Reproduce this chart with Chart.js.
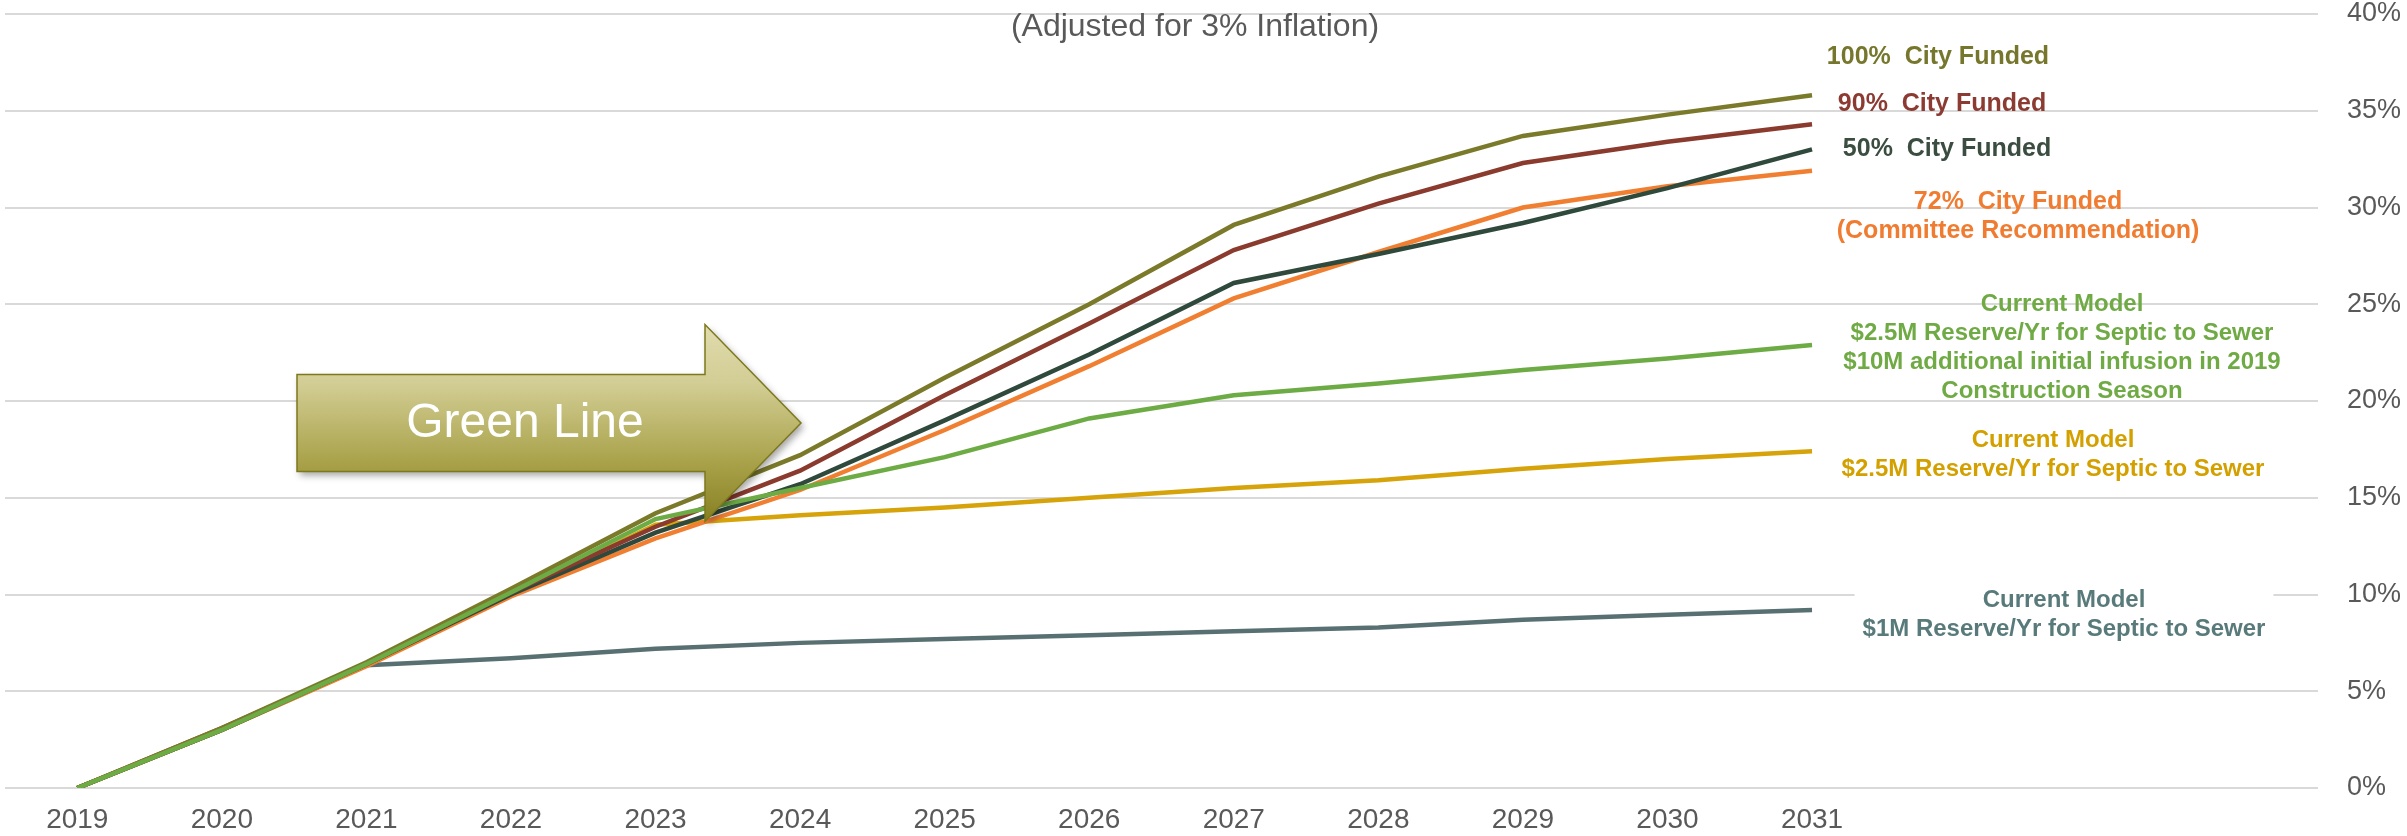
<!DOCTYPE html>
<html>
<head>
<meta charset="utf-8">
<script src="https://cdn.jsdelivr.net/npm/chart.js@4/dist/chart.umd.min.js"></script>
<style>
  html, body { margin: 0; padding: 0; background: #fff; }
  #wrap { width: 2407px; height: 836px; }
</style>
</head>
<body>
<div id="wrap"><canvas id="chart" width="2407" height="836"></canvas></div>
<script>
// categories: three empty slots on the right leave room for the notes
const years = ['2019', '2020', '2021', '2022', '2023', '2024', '2025', '2026', '2027', '2028', '2029', '2030', '2031', '', '', ''];

// values in %
const cityFunded100 = [0, 3.1, 6.5, 10.3, 14.2, 17.2, 21.2, 25.0, 29.1, 31.6, 33.7, 34.8, 35.8];
const cityFunded90 = [0, 3.1, 6.4, 10.1, 13.5, 16.4, 20.3, 24.0, 27.8, 30.2, 32.3, 33.4, 34.3];
const cityFunded50 = [0, 3.0, 6.4, 10.0, 13.2, 15.7, 19.0, 22.4, 26.1, 27.6, 29.2, 31.0, 33.0];
const cityFunded72 = [0, 3.0, 6.3, 9.9, 12.9, 15.4, 18.5, 21.8, 25.3, 27.7, 30.0, 31.1, 31.9];
const currentPlus10M = [0, 3.0, 6.4, 10.1, 13.9, 15.5, 17.1, 19.1, 20.3, 20.9, 21.6, 22.2, 22.9];
const current25M = [0, 3.0, 6.4, 10.0, 13.6, 14.1, 14.5, 15.0, 15.5, 15.9, 16.5, 17.0, 17.4];
const current1M = [0, 3.0, 6.35, 6.7, 7.2, 7.5, 7.7, 7.9, 8.1, 8.3, 8.7, 8.95, 9.2];

const yTicks = [0, 5, 10, 15, 20, 25, 30, 35, 40];

const FONT = "'Liberation Sans', Arial, sans-serif";
const GREY = '#595959';

// notes next to the line ends: [lines, colour, centre x, first line y, size, white box]
const notes = [
    [['100%  City Funded'], '#76772c', 1938, 57, 25, false],
    [['90%  City Funded'], '#8c3b33', 1942, 104, 25, false],
    [['50%  City Funded'], '#3b4d40', 1947, 149, 25, false],
    [['72%  City Funded', '(Committee Recommendation)'], '#f07c31', 2018, 202, 25, false],
    [['Current Model', '$2.5M Reserve/Yr for Septic to Sewer', '$10M additional initial infusion in 2019', 'Construction Season'], '#6faa45', 2062, 304, 24, false],
    [['Current Model', '$2.5M Reserve/Yr for Septic to Sewer'], '#d3a000', 2053, 440, 24, false],
    [['Current Model', '$1M Reserve/Yr for Septic to Sewer'], '#587a7a', 2064, 600, 24, true]
];

const overlay = {
    id: 'overlay',
    afterDatasetsDraw(chart) {
        const ctx = chart.ctx;
        ctx.save();

        // subtitle
        ctx.fillStyle = GREY;
        ctx.font = '32px ' + FONT;
        ctx.textAlign = 'center';
        ctx.textBaseline = 'middle';
        ctx.fillText('(Adjusted for 3% Inflation)', 1195, 27);

        // notes
        notes.forEach(function (n) {
            const lines = n[0];
            ctx.font = 'bold ' + n[4] + 'px ' + FONT;
            if (n[5]) {
                let w = 0;
                lines.forEach(function (l) { w = Math.max(w, ctx.measureText(l).width); });
                ctx.fillStyle = '#ffffff';
                ctx.fillRect(n[2] - w / 2 - 8, n[3] - 16, w + 16, 29 * lines.length + 4);
            }
            ctx.fillStyle = n[1];
            lines.forEach(function (l, i) {
                ctx.fillText(l, n[2], n[3] + i * 29);
            });
        });

        // "Green Line" block arrow
        const tail = 297, neck = 705, tip = 801, mid = 423, shaft = 48.5, head = 98.5;
        ctx.beginPath();
        ctx.moveTo(tail, mid - shaft);
        ctx.lineTo(neck, mid - shaft);
        ctx.lineTo(neck, mid - head);
        ctx.lineTo(tip, mid);
        ctx.lineTo(neck, mid + head);
        ctx.lineTo(neck, mid + shaft);
        ctx.lineTo(tail, mid + shaft);
        ctx.closePath();
        const grad = ctx.createLinearGradient(0, mid - head, 0, mid + head);
        grad.addColorStop(0, '#e0dcae');
        grad.addColorStop(0.3, '#d2cd94');
        grad.addColorStop(0.7, '#a9a24a');
        grad.addColorStop(1, '#878022');
        ctx.shadowColor = 'rgba(0,0,0,0.35)';
        ctx.shadowBlur = 7;
        ctx.shadowOffsetX = 3;
        ctx.shadowOffsetY = 4;
        ctx.fillStyle = grad;
        ctx.fill();
        ctx.shadowColor = 'transparent';
        ctx.strokeStyle = '#7d781c';
        ctx.lineWidth = 1.5;
        ctx.stroke();

        ctx.fillStyle = '#ffffff';
        ctx.font = '48px ' + FONT;
        ctx.fillText('Green Line', 525, mid + 1);

        ctx.restore();
    }
};

function series(data, color) {
    return {
        data: data,
        borderColor: color,
        backgroundColor: color,
        borderWidth: 4.5,
        pointRadius: 0,
        tension: 0,
        fill: false
    };
}

new Chart(document.getElementById('chart'), {
    type: 'line',
    data: {
        labels: years,
        datasets: [
            series(currentPlus10M, '#6dab45'),
            series(cityFunded100, '#7a7a2a'),
            series(cityFunded90, '#8b3a2e'),
            series(cityFunded50, '#2f4a3c'),
            series(cityFunded72, '#f07f32'),
            series(current25M, '#d6a30b'),
            series(current1M, '#587072')
        ]
    },
    options: {
        responsive: false,
        animation: false,
        events: [],
        layout: { padding: { top: 14, left: 5, right: 0, bottom: 0 } },
        plugins: {
            legend: { display: false },
            tooltip: { enabled: false }
        },
        scales: {
            x: {
                offset: true,
                grid: { display: false, drawTicks: false },
                border: { display: false },
                ticks: {
                    color: GREY,
                    font: { family: FONT, size: 28, lineHeight: 1 },
                    padding: 18,
                    autoSkip: false,
                    maxRotation: 0
                },
                afterFit: function (s) {
                    s.height = 48;
                    s.paddingLeft = 0;
                    s.paddingRight = 0;
                }
            },
            y: {
                position: 'right',
                min: 0,
                max: 40,
                afterBuildTicks: function (s) {
                    s.ticks = yTicks.map(function (v) { return { value: v }; });
                },
                grid: { color: '#d9d9d9', lineWidth: 2, drawTicks: false },
                border: { display: false },
                ticks: {
                    color: GREY,
                    font: { family: FONT, size: 27, lineHeight: 1 },
                    padding: 29,
                    callback: function (v) { return v + '%'; }
                },
                afterFit: function (s) {
                    s.width = 89;
                    s.paddingTop = 0;
                    s.paddingBottom = 0;
                }
            }
        }
    },
    plugins: [overlay]
});
</script>
</body>
</html>
